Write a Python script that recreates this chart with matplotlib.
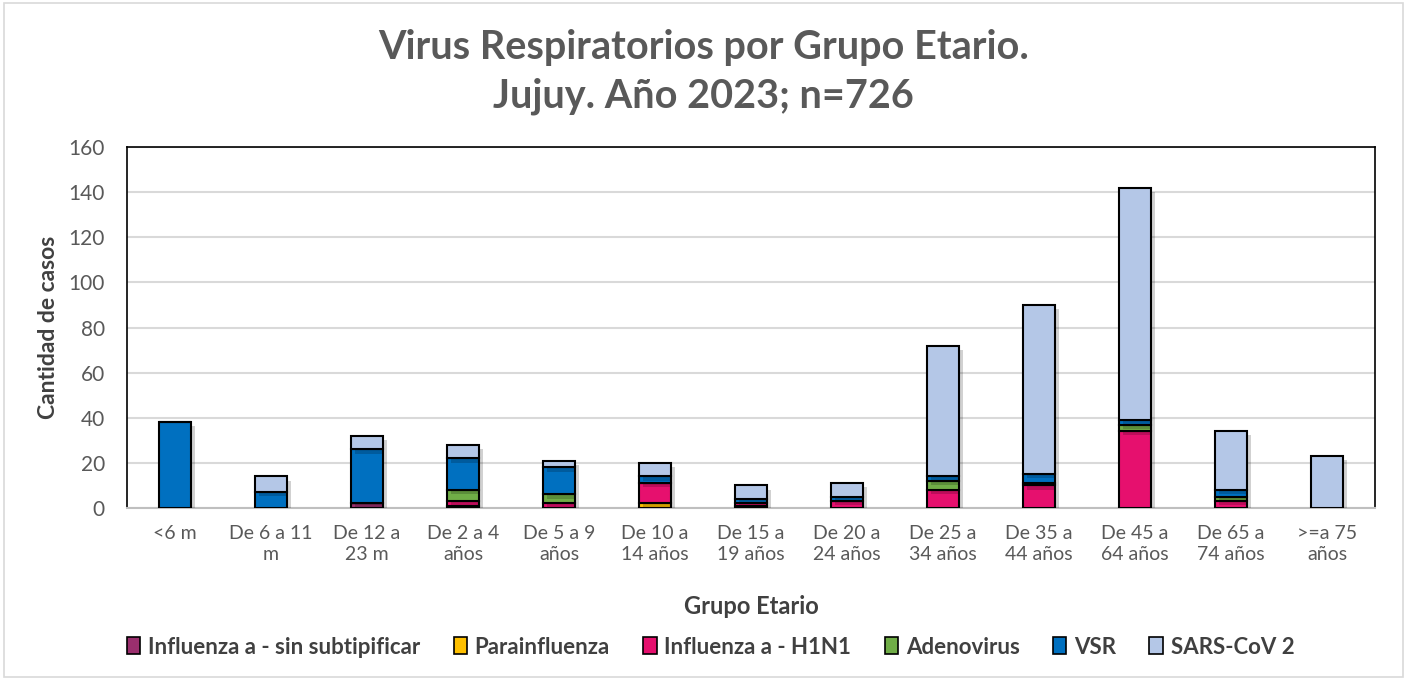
import matplotlib
matplotlib.use("Agg")
import matplotlib.pyplot as plt
import matplotlib.patheffects as pe
import numpy as np
from matplotlib.patches import Rectangle, Patch

categories = ["<6 m", "De 6 a 11\nm", "De 12 a\n23 m", "De 2 a 4\naños", "De 5 a 9\naños",
              "De 10 a\n14 años", "De 15 a\n19 años", "De 20 a\n24 años", "De 25 a\n34 años",
              "De 35 a\n44 años", "De 45 a\n64 años", "De 65 a\n74 años", ">=a 75\naños"]
series_names = ["Influenza a - sin subtipificar", "Parainfluenza", "Influenza a - H1N1",
                "Adenovirus", "VSR", "SARS-CoV 2"]
influenza_sin_subtip = [0, 0, 2, 1, 0, 0, 1, 0, 0, 0, 0, 0, 0]
parainfluenza =        [0, 0, 0, 0, 0, 2, 0, 0, 0, 0, 0, 0, 0]
influenza_h1n1 =       [0, 0, 0, 2, 2, 9, 1, 3, 8, 10, 34, 3, 0]
adenovirus =           [0, 0, 0, 5, 4, 0, 0, 0, 4, 1, 3, 2, 0]
vsr =                  [38, 7, 24, 14, 12, 3, 2, 2, 2, 4, 2, 3, 0]
sars_cov2 =            [0, 7, 6, 6, 3, 6, 6, 6, 58, 75, 103, 26, 23]
yticks = [0, 20, 40, 60, 80, 100, 120, 140, 160]

colors = ["#9B2F6E", "#FFC000", "#E6106E", "#70AD47", "#0070C0", "#B4C7E7"]
series = [influenza_sin_subtip, parainfluenza, influenza_h1n1, adenovirus, vsr, sars_cov2]

plt.rcParams['font.family'] = ['Lato', 'DejaVu Sans']
fig = plt.figure(figsize=(14.07, 6.8), dpi=100)
ax = fig.add_axes([127/1407, 1 - 508/680, (1375-127)/1407, (508-147)/680])

x = np.arange(len(categories))
bottom = np.zeros(len(categories))
shadow = [pe.SimplePatchShadow(offset=(3, -3), shadow_rgbFace='black', alpha=0.18), pe.Normal()]
for name, vals, c in zip(series_names, series, colors):
    v = np.array(vals, dtype=float)
    ax.bar(x, v, bottom=bottom, width=0.33, color=c, edgecolor='black', linewidth=1.5,
           label=name, zorder=3, path_effects=shadow)
    bottom += v

ax.set_xlim(-0.5, len(categories) - 0.5)
ax.set_ylim(0, 160)
ax.set_yticks(yticks)
ax.yaxis.grid(True, color='#D9D9D9', linewidth=1.5, zorder=0)
ax.set_axisbelow(True)
ax.set_xticks(x)
ax.set_xticklabels(categories, fontsize=14, color='#595959', linespacing=1.3)
ax.tick_params(axis='y', labelsize=15, labelcolor='#595959', length=0, pad=16)
ax.tick_params(axis='x', length=0, pad=12)
for s in ['left', 'top', 'right']:
    ax.spines[s].set_color('black')
    ax.spines[s].set_linewidth(1.2)
ax.spines['bottom'].set_color('#BFBFBF')
ax.spines['bottom'].set_linewidth(1.5)

ax.set_ylabel("Cantidad de casos", fontsize=16.5, fontweight='bold', color='#404040', labelpad=7)
ax.set_xlabel("Grupo Etario", fontsize=17, fontweight='bold', color='#404040', labelpad=23)

fig.text(0.5, 1 - 47/680, "Virus Respiratorios por Grupo Etario.", ha='center', va='center',
         fontsize=28.5, fontweight='bold', color='#595959')
fig.text(0.5, 1 - 96/680, "Jujuy. Año 2023; n=726", ha='center', va='center',
         fontsize=28.5, fontweight='bold', color='#595959')

handles = [Patch(facecolor=c, edgecolor='black', linewidth=1.2) for c in colors]
leg = fig.legend(handles, series_names, loc='center', bbox_to_anchor=(0.505, 1 - 647/680),
                 ncol=6, frameon=False, fontsize=16, handlelength=0.6, handleheight=0.8,
                 handletextpad=0.35, columnspacing=1.5)
for t in leg.get_texts():
    t.set_fontweight('bold')
    t.set_color('#404040')

fig.add_artist(Rectangle((4/1407, 3/680), 1 - 8/1407, 1 - 6/680, transform=fig.transFigure,
                         fill=False, edgecolor='#D9D9D9', linewidth=1.2))

fig.savefig("out.png", dpi=100, facecolor='white')
